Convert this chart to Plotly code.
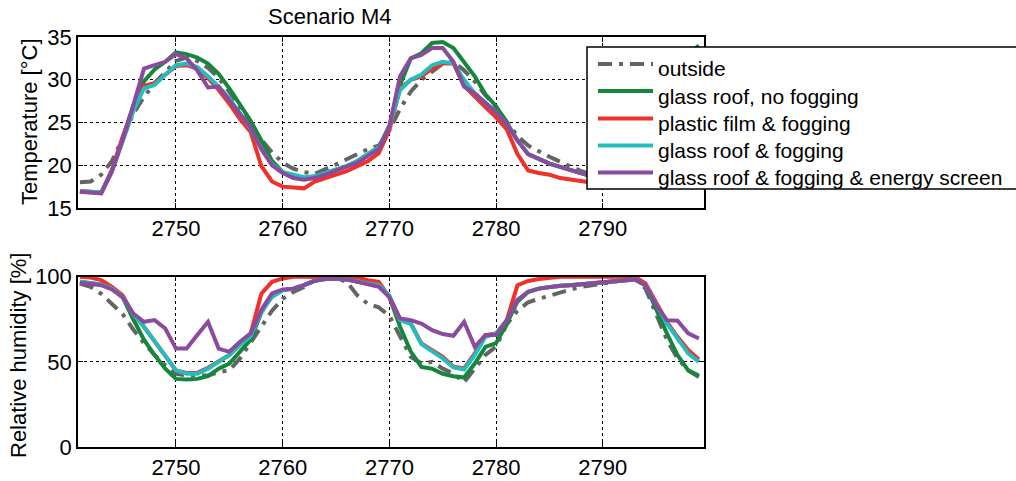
import plotly.graph_objects as go

# Hourly time axis [h]
hours = list(range(2741, 2800))

# Air temperature [°C]
temp_outside = [18.0, 18.1, 18.9, 20.5, 23.1, 26.0, 28.0, 29.6, 30.9, 32.2,
                32.6, 32.2, 31.4, 30.2, 28.6, 26.7, 24.8, 23.0, 21.5, 20.3,
                19.6, 19.2, 19.0, 19.5, 20.1, 20.7, 21.3, 21.9, 22.3, 24.1,
                26.6, 28.6, 30.0, 30.9, 31.9, 32.1, 31.1, 29.8, 28.2, 26.8,
                25.0, 23.4, 22.3, 21.6, 21.0, 20.4, 19.8, 19.3, 18.9, 18.6,
                18.3, 18.1, 18.3, 19.2, 21.0, 23.8, 26.5, 28.8, 30.5]
temp_glass_nofog = [16.9, 16.8, 16.8, 19.3, 23.0, 27.0, 29.8, 31.2, 32.1, 33.2,
                    33.0, 32.6, 31.9, 30.7, 29.0, 27.0, 25.2, 22.9, 20.5, 19.2,
                    18.8, 18.5, 18.7, 19.1, 19.5, 19.9, 20.5, 21.3, 22.1, 24.6,
                    29.4, 32.5, 33.1, 34.3, 34.4, 33.7, 32.1, 30.4, 28.3, 26.9,
                    25.0, 22.9, 21.3, 20.7, 20.2, 19.8, 19.4, 19.0, 18.7, 18.4,
                    18.1, 17.9, 18.0, 20.0, 24.5, 29.0, 31.5, 33.0, 34.0]
temp_plastic_fog = [17.0, 16.9, 16.8, 19.5, 23.3, 26.6, 29.3, 29.6, 30.6, 31.6,
                    31.7, 31.3, 30.2, 28.8, 27.2, 25.4, 23.9, 19.9, 18.1, 17.5,
                    17.4, 17.3, 18.1, 18.5, 18.9, 19.3, 19.9, 20.5, 21.4, 24.1,
                    29.0, 30.0, 30.4, 31.3, 31.9, 31.9, 29.3, 28.0, 26.8, 25.6,
                    24.2, 21.3, 19.4, 19.1, 18.9, 18.5, 18.3, 18.1, 17.9, 17.7,
                    17.6, 17.6, 17.8, 19.5, 24.0, 28.0, 29.5, 30.5, 31.5]
temp_glass_fog = [17.0, 16.9, 16.8, 19.3, 22.8, 26.3, 29.0, 29.4, 30.6, 31.7,
                  31.9, 31.5, 30.4, 29.2, 27.8, 26.0, 24.3, 21.9, 20.1, 19.2,
                  18.9, 18.6, 18.7, 19.1, 19.5, 19.9, 20.5, 21.3, 22.1, 24.6,
                  28.8, 30.0, 30.6, 31.7, 32.1, 31.9, 30.0, 28.4, 27.3, 26.2,
                  24.8, 22.9, 21.3, 20.7, 20.2, 19.8, 19.4, 19.0, 18.7, 18.4,
                  18.1, 17.9, 18.0, 19.8, 24.0, 28.0, 29.5, 30.5, 31.5]
temp_glass_fog_screen = [16.9, 16.8, 16.7, 19.3, 22.9, 27.0, 31.3, 31.7, 32.1, 33.0,
                         32.5, 31.1, 29.1, 29.2, 27.6, 26.0, 24.4, 21.9, 20.0, 19.1,
                         18.5, 18.3, 18.5, 18.9, 19.4, 19.8, 20.3, 21.1, 21.9, 24.6,
                         30.4, 32.5, 32.9, 33.7, 33.7, 32.1, 29.2, 28.4, 27.3, 26.2,
                         24.8, 22.9, 21.3, 20.7, 20.2, 19.8, 19.4, 19.0, 18.7, 18.3,
                         18.0, 17.9, 18.0, 19.8, 24.5, 29.5, 31.5, 32.0, 32.5]

# Relative humidity [%]
rh_outside = [96, 94, 90, 84, 78, 69, 61, 54, 48, 43,
              42, 42, 42, 44, 45, 52, 61, 71, 80, 87,
              91, 94, 98, 99, 99, 97, 89, 84, 82, 77,
              65, 53, 49, 50, 46, 43, 38, 46, 54, 59,
              72, 80, 85, 87, 89, 91, 92.5, 94, 95, 96.5,
              97, 98, 99, 93, 78, 63, 52, 45, 41]
rh_glass_nofog = [97, 96.5, 95.5, 93, 88, 75, 63, 54, 46, 40,
                  39.6, 40, 41.6, 46, 49, 56, 63, 79, 89, 92,
                  93, 95, 97.6, 98.6, 99, 98.4, 97, 96, 95, 88,
                  70.6, 56, 47, 46, 43, 41.6, 40.8, 49, 58.8, 61,
                  72.5, 85.3, 91, 93, 94, 94.7, 95.1, 95.5, 96, 96.5,
                  97, 97.6, 98.4, 95, 80.4, 66.7, 54, 45, 42]
rh_plastic_fog = [100, 99.5, 98, 94, 89, 78, 70.6, 62, 53, 45,
                  43.5, 43.5, 46.5, 50.5, 54, 60, 66.7, 90, 97, 99,
                  100, 100, 100, 100, 100, 100, 99.5, 98, 97, 88,
                  74.5, 72.5, 60.8, 56.9, 52.9, 47.1, 46.1, 54.9, 65.7, 66.7,
                  74.5, 95, 97.5, 98.6, 99.5, 100, 100, 100, 100, 100,
                  100, 100, 100, 96, 84.3, 73.5, 64.7, 56.9, 51.4]
rh_glass_fog = [97, 96.5, 95.5, 93, 88, 78, 70.6, 62, 53, 45,
                43, 43, 46, 50, 54, 60, 65, 79.4, 88, 92,
                93, 95, 97.6, 98.6, 99, 98.4, 97, 96, 95, 89,
                74.5, 72.5, 60.4, 56.5, 52, 46.7, 45.5, 54, 64.7, 66.7,
                74.5, 86.3, 91.2, 93, 94, 94.7, 95, 95.5, 96, 96.5,
                97, 97.6, 98.4, 95, 83.3, 72.5, 63.7, 55, 50]
rh_glass_fog_screen = [96.5, 96, 95, 92.5, 88, 78.4, 73.5, 74.5, 69.6, 57.8,
                       57.8, 65.7, 73.5, 57.8, 55.9, 61.8, 66.7, 80.4, 90.2, 92.5,
                       93, 95, 97.6, 98.6, 99, 98.4, 97, 96, 94, 88,
                       75.5, 74.5, 72.5, 68.6, 66.3, 65.3, 73.5, 58.8, 65.7, 65.7,
                       74.5, 86.3, 91.2, 93, 94, 94.7, 95, 95.5, 96, 96.5,
                       97, 97.6, 98.4, 95, 83.3, 74.5, 74.1, 66.7, 63.7]

series_names = ["outside", "glass roof, no fogging", "plastic film & fogging",
                "glass roof & fogging", "glass roof & fogging & energy screen"]
temp_series = [temp_outside, temp_glass_nofog, temp_plastic_fog,
               temp_glass_fog, temp_glass_fog_screen]
rh_series = [rh_outside, rh_glass_nofog, rh_plastic_fog,
             rh_glass_fog, rh_glass_fog_screen]
colors = ["#646464", "#15873c", "#f0302a", "#22bebe", "#8a4b9e"]
dashes = ["14px,7px,4px,7px", "solid", "solid", "solid", "solid"]

FONT = "Liberation Sans, Arial, Helvetica, sans-serif"

# Page geometry (pixels): plot area spans x 78..704, y 37..447
W, H = 1016, 481
L, R, T, B = 78, 704, 37, 447


def px(x):
    return (x - L) / (R - L)


def py(y):
    return (B - y) / (B - T)


fig = go.Figure()
for name, t, rh, col, dash in zip(series_names, temp_series, rh_series, colors, dashes):
    style = dict(color=col, width=4, dash=dash)
    fig.add_trace(go.Scatter(x=hours, y=t, name=name, mode="lines", line=style,
                             xaxis="x", yaxis="y", showlegend=False))
    fig.add_trace(go.Scatter(x=hours, y=rh, name=name, mode="lines", line=style,
                             xaxis="x2", yaxis="y2", showlegend=False))

axis_common = dict(
    showgrid=True, gridcolor="black", gridwidth=1, griddash="dot",
    showline=True, linecolor="black", linewidth=1.5, mirror="allticks",
    ticks="inside", ticklen=5, tickwidth=1, tickcolor="black",
    tickfont=dict(size=22, color="black", family=FONT), zeroline=False,
)
x_ticks = [2750, 2760, 2770, 2780, 2790]
x_range = [2740.82, 2799.48]

# Boxed key in the upper-right corner, running off the page edge
shapes = [dict(type="rect", xref="paper", yref="paper",
               x0=px(587), x1=px(1040), y0=py(189), y1=py(47),
               fillcolor="white", line=dict(color="black", width=1.5))]
annotations = []
row_line_y = [64, 91, 118.5, 145.5, 172.5]
row_text_y = [69, 96, 123.5, 150.5, 177.5]
for name, col, dash, ly, ty in zip(series_names, colors, dashes, row_line_y, row_text_y):
    shapes.append(dict(type="line", xref="paper", yref="paper",
                       x0=px(598), x1=px(653), y0=py(ly), y1=py(ly),
                       line=dict(color=col, width=4, dash=dash)))
    annotations.append(dict(text=name, xref="paper", yref="paper",
                            x=px(656), y=py(ty), xanchor="left", yanchor="middle",
                            showarrow=False, font=dict(size=21, family=FONT, color="black")))

annotations += [
    dict(text="Scenario M4", xref="paper", yref="paper", x=px(330), y=py(17),
         xanchor="center", yanchor="middle", showarrow=False,
         font=dict(size=22, family=FONT)),
    dict(text="Temperature [°C]", xref="paper", yref="paper", x=px(30), y=py(122),
         xanchor="center", yanchor="middle", textangle=-90, showarrow=False,
         font=dict(size=22, family=FONT)),
    dict(text="Relative humidity [%]", xref="paper", yref="paper", x=px(18), y=py(356),
         xanchor="center", yanchor="middle", textangle=-90, showarrow=False,
         font=dict(size=22, family=FONT)),
]

fig.update_layout(
    width=W, height=H,
    margin=dict(l=L, r=W - R, t=T, b=H - B, autoexpand=False),
    paper_bgcolor="white", plot_bgcolor="white",
    font=dict(family=FONT, size=22, color="black"),
    showlegend=False,
    xaxis=dict(domain=[0, 1], anchor="y", range=x_range, tickvals=x_ticks, **axis_common),
    yaxis=dict(domain=[py(208), 1], anchor="x", range=[15, 35],
               tickvals=[15, 20, 25, 30, 35], **axis_common),
    xaxis2=dict(domain=[0, 1], anchor="y2", range=x_range, tickvals=x_ticks, **axis_common),
    yaxis2=dict(domain=[0, py(276.7)], anchor="x2", range=[0, 100],
                tickvals=[0, 50, 100], **axis_common),
    shapes=shapes,
    annotations=annotations,
)

fig.write_html("out.html")
